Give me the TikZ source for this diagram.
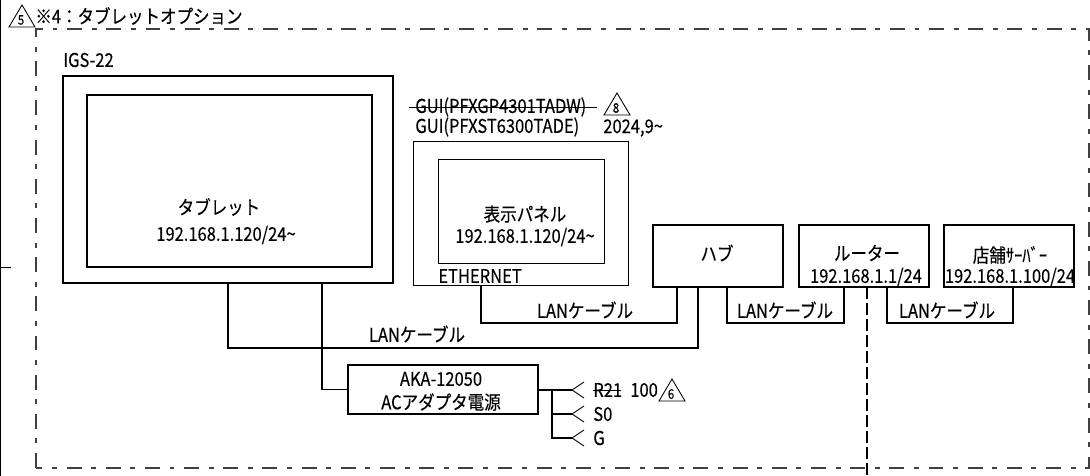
\documentclass[tikz,border=0pt]{standalone}
\usepackage{fontspec}
\setmainfont{Noto Sans CJK JP}[FakeStretch=0.87, FakeBold=0.25]
\usetikzlibrary{positioning, calc}
\tikzset{
   wire/.style={line width=0.95pt},
   thinwire/.style={line width=0.5pt},
   heavybox/.style={draw, line width=1.05pt, inner sep=0pt, outer sep=0pt},
   lightbox/.style={draw, line width=0.55pt, inner sep=0pt, outer sep=0pt},
   cadtext/.style={inner sep=0pt, font=\fontsize{10.8}{12}\selectfont},
   leftext/.style={cadtext, anchor=west},
   cablelabel/.style={cadtext}
}
\begin{document}
\begin{tikzpicture}[x=0.02cm, y=-0.02cm]
      \useasboundingbox (0,0) rectangle (1090,476);
      % sheet edge and option frame
      \draw[line width=1.2pt] (0,0) -- (0,476);
      \draw[thinwire] (0,267) -- (11,267);
      \draw[line width=0.6pt, black!75, dash pattern=on 8.5pt off 5.5pt on 2.8pt off 5.5pt] (36,468) -- (36,29) -- (1089,29) -- (1089,468) -- cycle;
      \draw[wire, dash pattern=on 6.8pt off 2.3pt] (867,287) -- (867,476);
      % revision marks
      \foreach \tx/\ty/\num in {22/5/5, 617/93/8, 672/379/6} {
         \draw[thinwire] (\tx,\ty) -- ++(-13,22) -- ++(26,0) -- cycle;
         \node[inner sep=0pt, font=\fontsize{7.5}{8}\selectfont] at (\tx-1,\ty+15) {\num};
      }
      \node[leftext] (titleText) at (35,16) {※4：タブレットオプション};
      % tablet
      \node[leftext] (igsText) at (63,60) {IGS-22};
      \node[heavybox, minimum width=6.6cm, minimum height=4.14cm] (igsBox) at (228,179.5) {};
      \node[heavybox, minimum width=5.7cm, minimum height=3.44cm] (tabletBox) at (229.5,181) {};
      \node[cadtext] (tabletText) at (219,207) {タブレット};
      \node[cadtext] (tabletIp) at (226,235) {192.168.1.120/24\char`~};
      % display unit
      \node[leftext] (oldGui) at (415,107) {GUI(PFXGP4301TADW)};
      \draw[thinwire] (409,107) -- (597,107);
      \node[leftext] (newGui) at (415,127) {GUI(PFXST6300TADE)};
      \node[leftext] (guiDate) at (603,128) {2024,9\char`~};
      \node[lightbox, minimum width=4.32cm, minimum height=2.88cm] (guiBox) at (521,213) {};
      \node[lightbox, minimum width=3.32cm, minimum height=2.08cm] (panelBox) at (521,211) {};
      \node[cadtext] (panelText) at (525,214) {表示パネル};
      \node[cadtext] (panelIp) at (525,237) {192.168.1.120/24\char`~};
      \node[leftext] (etherText) at (438,276) {ETHERNET};
      % network
      \node[heavybox, minimum width=2.6cm, minimum height=1.24cm] (hubBox) at (718,256) {};
      \node[heavybox, minimum width=2.6cm, minimum height=1.24cm] (routerBox) at (864,256) {};
      \node[heavybox, minimum width=2.6cm, minimum height=1.24cm] (serverBox) at (1009,256) {};
      \node[cadtext] (hubText) at (717,253) {ハブ};
      \node[cadtext] (routerText) at (867,253) {ルーター};
      \node[cadtext] (routerIp) at (866,277) {192.168.1.1/24};
      \node[cadtext] (serverText) at (1010,255) {店舗ｻｰﾊﾞｰ};
      \node[cadtext] (serverIp) at (1010,277) {192.168.1.100/24};
      % ports on the boxes
      \coordinate (guiPort) at (481,285);
      \coordinate (hubPortA) at (677,287);
      \coordinate (hubPortB) at (698,287);
      \coordinate (hubPortC) at (727,287);
      \coordinate (routerPortA) at (844,287);
      \coordinate (routerPortB) at (887,287);
      \coordinate (serverPort) at (1013,287);
      \coordinate (igsPortA) at (228,283);
      \coordinate (igsPortB) at (322,283);
      % LAN cables
      \draw[wire] (guiPort) -- ++(0,38) -| (hubPortA);
      \draw[wire] (igsPortA) -- ++(0,65) -| (hubPortB);
      \draw[wire] (hubPortC) -- ++(0,36) -| (routerPortA);
      \draw[wire] (routerPortB) -- ++(0,36) -| (serverPort);
      \node[cablelabel] (lanA) at (585,310) {LANケーブル};
      \node[cablelabel] (lanB) at (417,334) {LANケーブル};
      \node[cablelabel] (lanC) at (785,310) {LANケーブル};
      \node[cablelabel] (lanD) at (947,310) {LANケーブル};
      % power supply
      \node[heavybox, minimum width=3.8cm, minimum height=0.98cm] (akaBox) at (443,389.5) {};
      \node[cadtext] (akaText) at (441,379) {AKA-12050};
      \node[cadtext] (akaSub) at (441,402) {ACアダプタ電源};
      \draw[wire] (igsPortB) |- (akaBox.west);
      \coordinate (akaPort) at (538,390);
      \coordinate (forkR) at (572,390);
      \coordinate (forkS) at (572,414);
      \coordinate (forkG) at (572,438);
      \draw[wire] (akaPort) -- (forkR);
      \draw[wire] (552,390) |- (forkS);
      \draw[wire] (552,414) |- (forkG);
      \foreach \fork in {forkR, forkS, forkG} {
         \draw[thinwire] ($(\fork)+(12,-8)$) -- (\fork) -- ($(\fork)+(12,8)$);
      }
      \node[leftext] (rText) at (593,390) {R21};
      \draw[thinwire] (593,390) -- (621,390);
      \node[leftext] (rValue) at (630,390) {100};
      \node[leftext] (sText) at (593,414) {S0};
      \node[leftext] (gText) at (593,438) {G};
   \end{tikzpicture}
\end{document}
